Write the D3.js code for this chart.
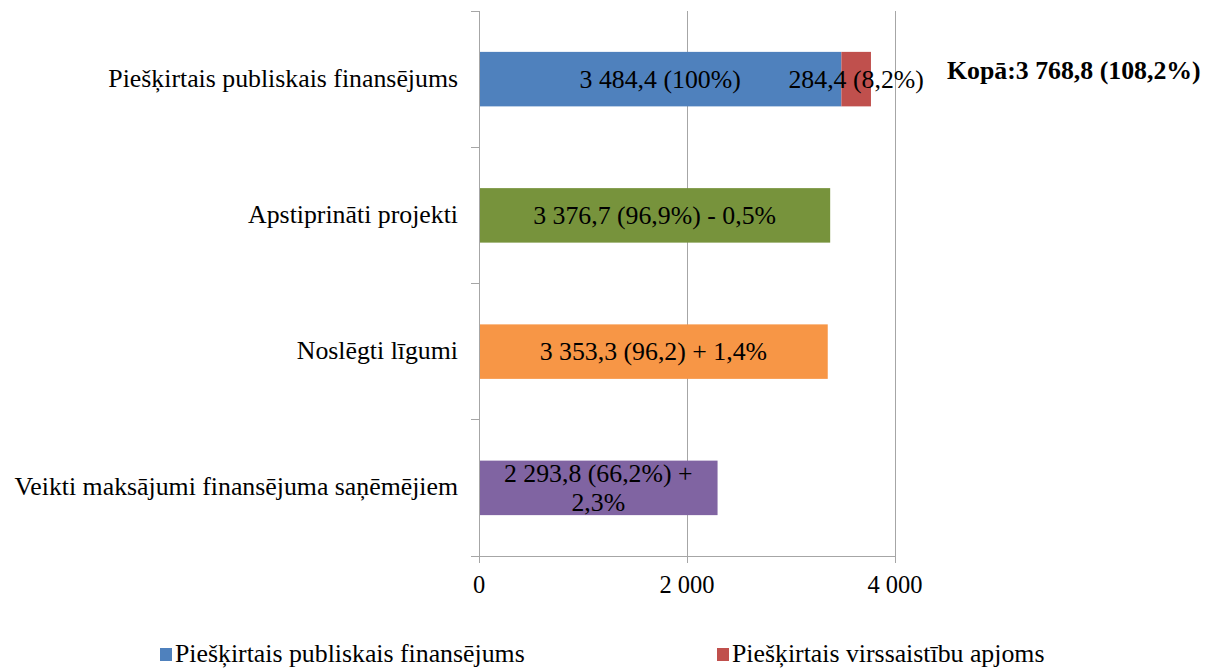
<!DOCTYPE html>
<html><head><meta charset="utf-8">
<script src="https://cdn.jsdelivr.net/npm/d3@7"></script>
<style>body{margin:0;background:#fff}svg{display:block}</style>
</head><body>
<svg id="c" width="1216" height="668"></svg>
<script>
const categories = ["Piešķirtais publiskais finansējums","Apstiprināti projekti","Noslēgti līgumi","Veikti maksājumi finansējuma saņēmējiem"];
const seriesNames = ["Piešķirtais publiskais finansējums","Piešķirtais virssaistību apjoms"];
const publicFunding = [3484.4, 3376.7, 3353.3, 2293.8];
const overcommitment = [284.4, 0, 0, 0];
const barColors = ["#4F81BD","#77933C","#F79646","#8064A2"];
const overColor = "#C0504D";
const labelsMain = [["3 484,4 (100%)"],["3 376,7 (96,9%) - 0,5%"],["3 353,3 (96,2) + 1,4%"],["2 293,8 (66,2%) +","2,3%"]];
const labelsOver = ["284,4 (8,2%)", null, null, null];
const totalLabel = "Kopā:3 768,8 (108,2%)";
const tickValues = [0, 2000, 4000];
const tickLabels = ["0","2 000","4 000"];

const svg = d3.select("#c");
const font = "'Liberation Serif','Times New Roman',serif";
const fs = 25.8;
const m = {left:479, right:895, top:11, bottom:556};
const x = d3.scaleLinear().domain([0,4000]).range([m.left, m.right]);
const y = d3.scaleBand().domain(categories).range([m.top, m.bottom]).paddingInner(0.6).paddingOuter(0.3);
const band = (m.bottom - m.top) / categories.length;
const grey = "#a6a6a6";

// gridlines
svg.append("g").selectAll("line").data(tickValues.slice(1)).join("line")
  .attr("x1", d=>x(d)).attr("x2", d=>x(d)).attr("y1", m.top).attr("y2", m.bottom)
  .attr("stroke", grey).attr("stroke-width",1).attr("shape-rendering","crispEdges");

// bars
const data = categories.map((c,i)=>({c, v:publicFunding[i], o:overcommitment[i], i}));
svg.append("g").selectAll("rect").data(data).join("rect")
  .attr("x", x(0)).attr("y", d=>y(d.c)).attr("width", d=>x(d.v)-x(0)).attr("height", y.bandwidth())
  .attr("fill", (d)=>barColors[d.i]);
svg.append("g").selectAll("rect").data(data.filter(d=>d.o>0)).join("rect")
  .attr("x", d=>x(d.v)).attr("y", d=>y(d.c)).attr("width", d=>x(d.v+d.o)-x(d.v)).attr("height", y.bandwidth())
  .attr("fill", overColor);

// left axis
const ax = svg.append("g").attr("stroke", grey).attr("shape-rendering","crispEdges");
ax.append("line").attr("x1", m.left).attr("x2", m.left).attr("y1", m.top).attr("y2", m.bottom);
for (let k=0;k<=categories.length;k++){
  const yy = m.top + k*band;
  ax.append("line").attr("x1", m.left-8).attr("x2", m.left).attr("y1", yy).attr("y2", yy);
}
// bottom axis
ax.append("line").attr("x1", m.left-8).attr("x2", m.right).attr("y1", m.bottom).attr("y2", m.bottom);
tickValues.forEach(t=>{
  ax.append("line").attr("x1", x(t)).attr("x2", x(t)).attr("y1", m.bottom).attr("y2", m.bottom+7);
});
svg.append("g").selectAll("text").data(tickValues).join("text")
  .attr("x", d=>x(d)).attr("y", 593).attr("text-anchor","middle")
  .attr("font-family", font).attr("font-size", 24.5).attr("fill","#000")
  .text((d,i)=>tickLabels[i]);

// category labels
svg.append("g").selectAll("text").data(categories).join("text")
  .attr("x", 458).attr("y", d=>y(d)+y.bandwidth()/2+7.5).attr("text-anchor","end")
  .attr("font-family", font).attr("font-size", fs).attr("fill","#000")
  .text(d=>d);

// data labels
data.forEach(d=>{
  const cx = (x(0)+x(d.v))/2;
  const lines = labelsMain[d.i];
  const cy = y(d.c)+y.bandwidth()/2;
  const lh = 29;
  lines.forEach((t,j)=>{
    svg.append("text").attr("x", cx).attr("y", cy + (j-(lines.length-1)/2)*lh + 8.5)
      .attr("text-anchor","middle").attr("font-family", font).attr("font-size", fs).attr("fill","#000").text(t);
  });
  if (labelsOver[d.i]) {
    svg.append("text").attr("x", (x(d.v)+x(d.v+d.o))/2).attr("y", cy+8.5)
      .attr("text-anchor","middle").attr("font-family", font).attr("font-size", fs).attr("fill","#000").text(labelsOver[d.i]);
  }
});
svg.append("text").attr("x", 947).attr("y", y(categories[0])+y.bandwidth()/2-0.5)
  .attr("font-family", font).attr("font-size", fs).attr("font-weight","bold").attr("fill","#000").text(totalLabel);

// legend
const lg = [{n:seriesNames[0], c:barColors[0], x:160},{n:seriesNames[1], c:overColor, x:717}];
lg.forEach(l=>{
  svg.append("rect").attr("x", l.x).attr("y", 648).attr("width", 12).attr("height", 13).attr("fill", l.c);
  svg.append("text").attr("x", l.x+15).attr("y", 662).attr("font-family", font).attr("font-size", fs).attr("fill","#000").text(l.n);
});
</script>
</body></html>
